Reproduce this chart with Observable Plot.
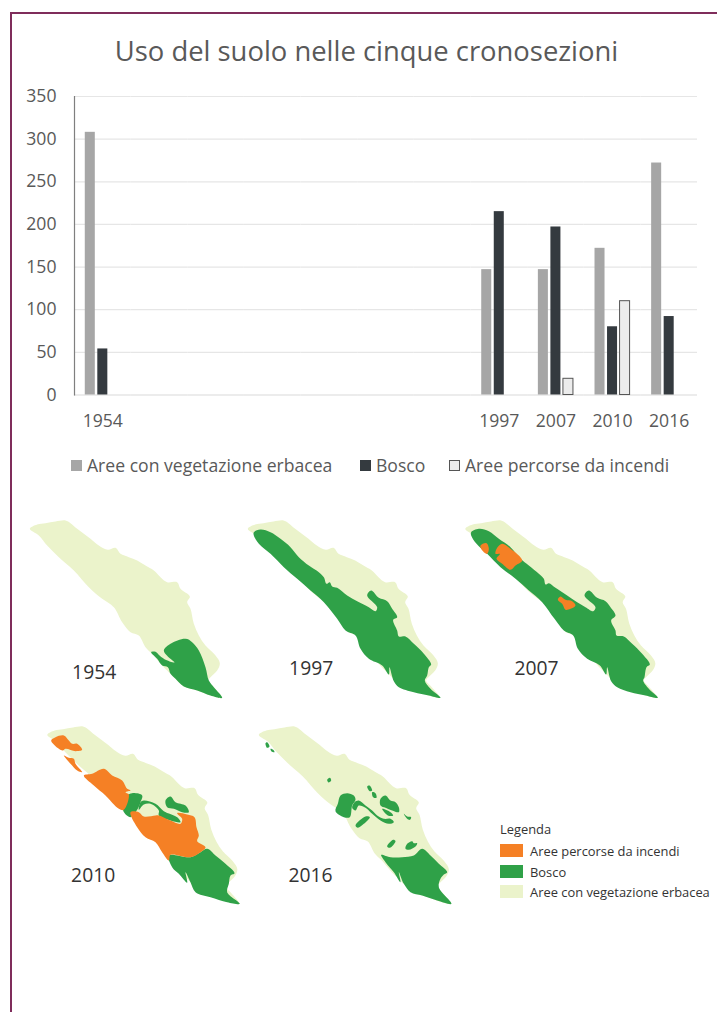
<!DOCTYPE html>
<html lang="it">
<head>
<meta charset="utf-8">
<title>Uso del suolo nelle cinque cronosezioni</title>
<script src="https://cdn.jsdelivr.net/npm/d3@7"></script>
<script src="https://cdn.jsdelivr.net/npm/@observablehq/plot@0.6"></script>
<style>
  html, body { margin: 0; padding: 0; background: #fff; }
  #page { position: relative; width: 717px; height: 1012px; overflow: hidden; font-family: "Open Sans", sans-serif; }
  #frame { position: absolute; left: 10px; top: 12px; right: -4px; bottom: -4px; border: 2.5px solid #7f2d5b; }
  #titolo { position: absolute; left: 0; top: 32px; width: 733px; text-align: center; font-size: 27.4px; color: #595959; line-height: 38px; }
  .panel { position: absolute; }
  .voce { position: absolute; white-space: nowrap; }
  .voce i { position: absolute; display: block; box-sizing: border-box; }
  #leg-grafico .voce { top: 454px; font-size: 17.6px; line-height: 22px; color: #595959; }
  #leg-grafico .voce i { left: -16px; top: 6px; width: 11px; height: 11px; }
  #leg-mappe .voce { left: 530px; font-size: 12.9px; line-height: 16px; color: #333; }
  #leg-mappe .voce i { left: -30px; top: 1px; width: 23px; height: 13px; }
  #leg-mappe .testa { left: 500px; top: 821px; }
</style>
</head>
<body>
<div id="page">
  <div id="frame"></div>
  <div id="titolo">Uso del suolo nelle cinque cronosezioni</div>
  <div id="grafico" class="panel" style="left:0;top:0"></div>
  <div id="leg-grafico"></div>
  <div id="mappe"></div>
  <div id="leg-mappe"></div>
</div>
<script>
// Histogram data: hectares per land-use class
const anni = ["1954", "1997", "2007", "2010", "2016"];
const serie = ["Aree con vegetazione erbacea", "Bosco", "Aree percorse da incendi"];
const erbacea = [308, 147, 147, 172, 272];
const bosco = [54, 215, 197, 80, 92];
const incendi = [null, null, 19, 110, null];
const tickY = [0, 50, 100, 150, 200, 250, 300, 350];
// Time axis slots: the empty ones keep the gap between 1954 and 1997
const slotAnni = ["1954", "-1", "-2", "-3", "-4", "-5", "-6", "1997", "2007", "2010", "2016"];

const coloriBarre = ["#a6a6a6", "#343a3f", "#ececec"];
const coloriMappa = {incendi: "#f58025", bosco: "#2fa148", erbacea: "#ebf3cb"};

// Island outline, map units
const contorno = [[28,55],[50,42],[75,38],[105,33],[135,30],[150,38],[170,55],[190,70],[210,85],[235,105],[262,118],[285,112],[300,130],[325,140],[350,150],[375,165],[400,180],[420,200],[440,215],[470,215],[480,235],[508,258],[500,275],[510,295],[520,340],[535,375],[555,405],[585,435],[598,458],[590,480],[570,500],[563,510],[580,530],[605,562],[570,555],[530,540],[490,528],[465,505],[450,490],[440,480],[425,465],[395,430],[375,410],[355,375],[330,365],[305,335],[280,290],[245,265],[205,230],[160,180],[115,140],[80,105],[55,75]];

// Woodland patches per survey, map units
const bosco1954 = [
  [[392,425],[405,424],[418,436],[432,446],[462,456],[440,436],[430,420],[450,400],[495,385],[515,395],[535,420],[555,470],[565,510],[580,530],[605,562],[570,555],[530,540],[490,528],[465,505],[450,490],[442,470],[425,465],[410,445]]
];
const bosco1997 = [
  [[40,65],[60,57],[90,65],[120,85],[150,110],[175,140],[205,165],[235,185],[250,200],[258,220],[268,215],[275,228],[290,232],[320,255],[350,272],[385,290],[405,302],[410,290],[380,255],[392,240],[415,262],[440,272],[455,295],[470,320],[458,328],[470,360],[475,378],[495,378],[520,400],[550,430],[572,462],[565,470],[560,495],[553,510],[570,535],[600,562],[565,555],[520,545],[475,530],[460,512],[447,470],[445,492],[425,465],[385,445],[360,415],[345,375],[315,360],[290,325],[250,275],[210,240],[170,205],[130,170],[90,130],[55,100],[40,75]]
];
const bosco2007 = [
  [[32,65],[55,55],[85,62],[115,85],[150,110],[180,145],[205,165],[235,190],[250,205],[255,222],[265,218],[285,232],[320,255],[350,275],[375,290],[398,302],[405,290],[372,255],[385,240],[410,262],[435,272],[450,290],[465,315],[452,330],[465,360],[468,375],[490,378],[515,400],[545,430],[568,462],[558,470],[552,500],[548,510],[565,535],[592,562],[555,555],[510,545],[470,530],[452,512],[440,470],[437,492],[418,465],[380,445],[352,415],[338,375],[310,360],[282,325],[245,275],[205,240],[165,205],[120,170],[80,130],[48,100],[32,75]]
];
const bosco2010 = [
  [[290,225],[305,218],[335,225],[330,245],[320,268],[300,290],[278,270]],
  [[340,240],[375,250],[400,272],[440,290],[450,305],[420,300],[385,285],[385,270],[360,250],[340,252],[325,268],[330,245]],
  [[405,240],[420,228],[435,245],[465,255],[475,275],[455,275],[430,265],[410,260]],
  [[415,405],[480,410],[510,395],[530,385],[555,405],[585,430],[612,458],[600,465],[595,490],[590,515],[628,550],[590,545],[540,530],[495,515],[480,485],[465,455],[470,487],[445,460],[425,440]]
];
const bosco2016 = [
  [[45,68],[50,65],[57,78],[50,82]],
  [[60,85],[68,88],[72,95],[63,93]],
  [[230,178],[238,172],[242,180],[234,186]],
  [[350,198],[357,195],[365,210],[358,212]],
  [[365,215],[375,218],[378,232],[368,230]],
  [[270,225],[290,218],[310,225],[315,238],[305,255],[298,290],[280,290],[255,272],[262,250]],
  [[305,262],[312,245],[325,240],[345,255],[365,270],[380,285],[400,295],[420,295],[430,305],[415,310],[390,300],[365,280],[345,262],[325,255],[315,270]],
  [[390,235],[405,225],[420,240],[435,245],[445,260],[445,275],[425,270],[405,262],[390,255]],
  [[395,265],[420,275],[428,285],[412,285]],
  [[315,315],[345,288],[358,290],[340,310],[322,322]],
  [[410,378],[428,358],[435,362],[418,382]],
  [[465,385],[470,370],[485,362],[490,368],[500,368],[495,378],[475,388]],
  [[460,280],[470,288],[482,290],[478,298],[470,295]],
  [[392,403],[420,410],[455,410],[490,405],[515,385],[540,405],[565,430],[590,455],[580,462],[570,475],[565,500],[603,550],[560,540],[515,525],[480,515],[460,490],[445,455],[450,485],[430,455],[405,425]]
];

// Burnt areas per survey, map units
const incendi2007 = [
  [[60,105],[78,98],[85,115],[80,130],[70,125],[62,115]],
  [[110,112],[125,100],[150,115],[185,150],[165,165],[150,178],[125,160],[108,145],[118,130],[105,130]],
  [[292,268],[300,258],[315,268],[335,272],[345,285],[330,295],[315,298],[305,280]]
];
const incendi2010 = [
  [[62,60],[75,50],[100,45],[115,60],[125,70],[140,70],[155,88],[135,92],[105,85],[97,90],[85,85]],
  [[100,105],[115,112],[130,115],[135,130],[155,155],[140,150],[120,130]],
  [[160,165],[185,160],[220,145],[245,165],[275,180],[290,205],[300,210],[285,215],[295,222],[280,268],[265,265],[225,225],[190,195]],
  [[300,275],[325,275],[340,288],[375,285],[385,285],[420,300],[450,310],[455,295],[440,278],[470,282],[492,290],[498,320],[505,345],[500,362],[525,380],[510,395],[480,410],[420,403],[415,420],[395,395],[375,365],[345,350],[320,320]]
];

// One panel per survey: screen corner, outline shift, label anchor
const pannelli = [
  {anno: "1954", left: 20, top: 510, shift: [0, 0], label: [221, 487], bosco: bosco1954, incendi: []},
  {anno: "1997", left: 240, top: 510, shift: [-6, 0], label: [212, 475], bosco: bosco1997, incendi: []},
  {anno: "2007", left: 460, top: 510, shift: [-13.5, 0], label: [228, 475], bosco: bosco2007, incendi: incendi2007},
  {anno: "2010", left: 30, top: 720, shift: [22.5, -12], label: [188, 467], bosco: bosco2010, incendi: incendi2010},
  {anno: "2016", left: 250, top: 720, shift: [-3, -12], label: [180, 467], bosco: bosco2016, incendi: []}
];

// Long table for the grouped bars
const righe = anni.flatMap((anno, i) => [
  {anno, serie: serie[0], valore: erbacea[i]},
  {anno, serie: serie[1], valore: bosco[i]},
  {anno, serie: serie[2], valore: incendi[i]}
]).filter(d => d.valore != null);

// Gridlines repeat in every slot so the empty stretch of the axis still gets a facet
const griglia = slotAnni.flatMap(slot => tickY.map(tick => ({slot, tick})));

const grafico = Plot.plot({
  width: 717,
  height: 440,
  marginLeft: 74,
  marginRight: 20,
  marginTop: 96,
  marginBottom: 45.5,
  style: {background: "transparent", fontFamily: "Open Sans, sans-serif", fontSize: "17.6px", color: "#595959"},
  fx: {domain: slotAnni, padding: 0, round: false, label: null},
  x: {domain: serie, paddingInner: 0.2, paddingOuter: 0.86, round: false, axis: null},
  y: {domain: [0, 350], label: null},
  color: {domain: serie, range: coloriBarre},
  marks: [
    Plot.ruleY(griglia, {fx: "slot", y: "tick", stroke: d => d.tick === 0 ? "#d9d9d9" : "#e6e6e6", strokeWidth: 1.2}),
    Plot.barY(righe, {
      fx: "anno",
      x: "serie",
      y: "valore",
      fill: "serie",
      stroke: d => d.serie === serie[2] ? "#555" : "none",
      strokeWidth: 1
    }),
    Plot.frame({anchor: "left", facetAnchor: "left", stroke: "#7f7f7f", strokeWidth: 1.2}),
    Plot.axisY({ticks: tickY, tickSize: 0, tickPadding: 18, label: null, color: "#595959"}),
    Plot.axisFx({ticks: anni, tickSize: 0, tickPadding: 19, label: null, anchor: "bottom", color: "#595959"})
  ]
});
document.getElementById("grafico").append(grafico);

// Fill one closed polygon per patch
function toppe(poligoni, fill) {
  return poligoni.map(pts => Plot.line(pts, {x: d => d[0], y: d => d[1], fill, stroke: "none", curve: "catmull-rom-closed"}));
}

const mappe = document.getElementById("mappe");
for (const p of pannelli) {
  const base = contorno.map(([x, y]) => [x + p.shift[0], y + p.shift[1]]);
  const svg = Plot.plot({
    width: 220,
    height: 200,
    margin: 0,
    style: {background: "transparent", overflow: "visible"},
    x: {domain: [0, 660], axis: null},
    y: {domain: [0, 600], axis: null, reverse: true},
    marks: [
      ...toppe([base], coloriMappa.erbacea),
      ...toppe(p.bosco, coloriMappa.bosco),
      ...toppe(p.incendi, coloriMappa.incendi),
      Plot.text([p.anno], {
        x: () => p.label[0],
        y: () => p.label[1],
        fontFamily: "Open Sans, sans-serif",
        fontSize: 19.3,
        fill: "#333"
      })
    ]
  });
  const box = document.createElement("div");
  box.className = "panel";
  box.style.left = p.left + "px";
  box.style.top = p.top + "px";
  box.append(svg);
  mappe.append(box);
}

// Legend under the histogram
const legGrafico = document.getElementById("leg-grafico");
[87, 376, 465].forEach((left, i) => {
  const v = document.createElement("div");
  v.className = "voce";
  v.style.left = left + "px";
  v.textContent = serie[i];
  const q = document.createElement("i");
  q.style.background = coloriBarre[i];
  if (i === 2) q.style.border = "1px solid #555";
  v.prepend(q);
  legGrafico.append(v);
});

// Legend of the maps
const legMappe = document.getElementById("leg-mappe");
const testa = document.createElement("div");
testa.className = "voce testa";
testa.textContent = "Legenda";
legMappe.append(testa);
[["incendi", serie[2], 843], ["bosco", serie[1], 863.5], ["erbacea", serie[0], 883.5]].forEach(([k, testo, top]) => {
  const v = document.createElement("div");
  v.className = "voce";
  v.style.top = top + "px";
  v.textContent = testo;
  const q = document.createElement("i");
  q.style.background = coloriMappa[k];
  v.prepend(q);
  legMappe.append(v);
});
</script>
</body>
</html>
